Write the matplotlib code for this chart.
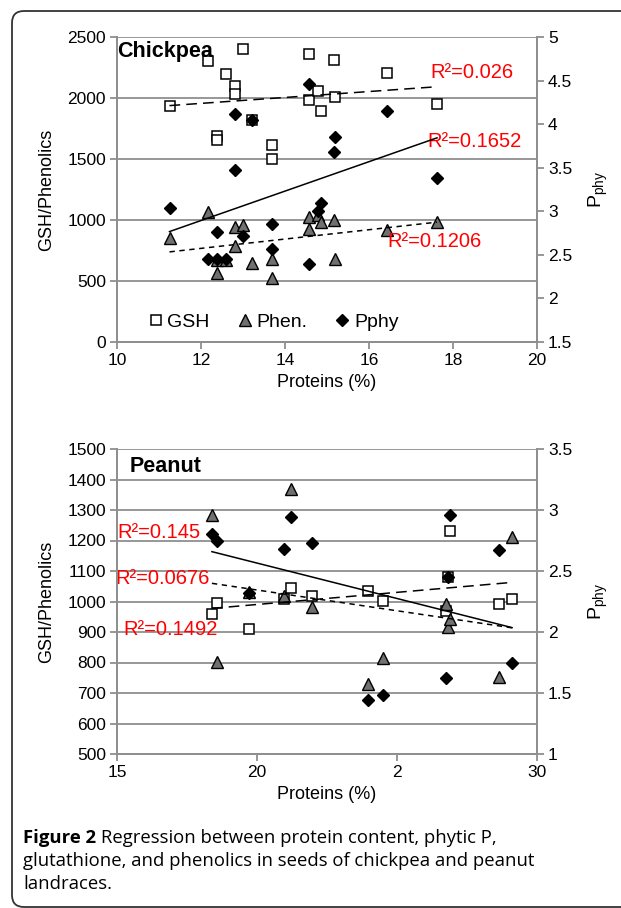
import numpy as np
import matplotlib.pyplot as plt
from matplotlib.patches import FancyBboxPatch

plt.rcParams['font.family'] = ['Liberation Sans', 'DejaVu Sans']
plt.rcParams['mathtext.fontset'] = 'custom'
plt.rcParams['mathtext.rm'] = 'Liberation Sans'

# chickpea landraces
cp_protein = [11.25, 12.17, 12.37, 12.37, 12.6, 12.81, 12.81, 13.01, 13.21, 13.7,
              13.7, 14.58, 14.58, 14.79, 14.86, 15.17, 15.19, 16.43, 17.62]
cp_gsh = [1934, 2303, 1689, 1656, 2197, 2098, 2033, 2402, 1820, 1615,
          1500, 2361, 1984, 2057, 1893, 2311, 2008, 2205, 1951]
cp_phen = [852, 1066, 672, 566, 672, 943, 787, 959, 648, 680,
           525, 1025, 926, 1040, 984, 1000, 680, 918, 984]
cp_pphy = [3.04, 2.45, 2.76, 2.45, 2.45, 4.12, 3.47, 2.72, 4.05, 2.85,
           2.57, 4.46, 2.39, 3.0, 3.09, 3.68, 3.85, 4.15, 3.38]
cp_r2 = ['R²=0.026', 'R²=0.1206', 'R²=0.1652']  # gsh, phen, pphy

# peanut landraces
pn_protein = [18.39, 18.57, 19.7, 20.95, 21.21, 21.95, 23.96, 24.5, 26.75, 26.82,
              26.89, 28.64, 29.11]
pn_gsh = [959, 995, 910, 1008, 1044, 1018, 1034, 1002, 969, 1080, 1231, 992, 1008]
pn_phen = [1284, 802, 1030, 1018, 1369, 982, 730, 815, 992, 916, 943, 752, 1211]
pn_pphy = [2.80, 2.75, 2.32, 2.68, 2.94, 2.73, 1.44, 1.48, 1.62, 2.45, 2.96, 2.67, 1.75]
pn_r2 = ['R²=0.0676', 'R²=0.1492', 'R²=0.145']

GRAY = '#8f8f8f'
W, H = 621, 908

fig = plt.figure(figsize=(W / 100, H / 100), dpi=100)

# pixel overlay for frame and caption
bg = fig.add_axes([0, 0, 1, 1])
bg.set_xlim(0, W)
bg.set_ylim(H, 0)
bg.axis('off')
bg.set_zorder(-1)
bg.add_patch(FancyBboxPatch((12, 11), 700, 896, boxstyle='round,pad=0,rounding_size=12',
                            fill=False, ec='#333333', lw=1.3))


def trend(ax, x, y, **kw):
    c = np.polyfit(x, y, 1)
    xs = np.array([min(x), max(x)])
    ax.plot(xs, np.polyval(c, xs), color='black', lw=1.1, **kw)


def style(ax, ax2):
    for s in ['left', 'bottom', 'right']:
        ax.spines[s].set_color(GRAY)
        ax.spines[s].set_linewidth(1.3)
        ax2.spines[s].set_color(GRAY)
        ax2.spines[s].set_linewidth(1.3)
    ax.spines['top'].set_visible(False)
    ax2.spines['top'].set_visible(False)
    ax.grid(axis='y', color=GRAY, lw=1.3)
    ax.set_axisbelow(True)
    for a in (ax, ax2):
        a.tick_params(direction='out', length=5, width=1.3, color=GRAY, labelsize=12.5, pad=3)


def panel(ax, x, gsh, phen, pphy, r2, r2pos, name, namepos):
    ax2 = ax.twinx()
    hs = ax.plot(x, gsh, 's', ms=7.5, mfc='white', mec='black', mew=1.1, label='GSH')[0]
    ht = ax.plot(x, phen, '^', ms=8.5, mfc='#707070', mec='black', mew=1.0, label='Phen.')[0]
    hd = ax2.plot(x, pphy, 'D', ms=6, color='black', label='Pphy')[0]
    trend(ax, x, gsh, dashes=(7, 4))
    trend(ax, x, phen, dashes=(3.5, 3))
    trend(ax2, x, pphy)
    for txt, (tx, ty) in zip(r2, r2pos):
        ax.text(tx, ty, txt, color='red', fontsize=14.5, transform=ax.transAxes,
                ha='left', va='center', zorder=5)
    ax.text(namepos[0], namepos[1], name, fontsize=15.5, weight='bold',
            transform=ax.transAxes, ha='left', va='center')
    style(ax, ax2)
    ax.set_xlabel('Proteins (%)', fontsize=13)
    ax.xaxis.set_label_coords(0.5, -0.134)
    ax.xaxis.label.set_va('center')
    ax.set_ylabel('GSH/Phenolics', fontsize=13)
    ax.yaxis.set_label_coords(-0.167, 0.5)
    ax.yaxis.label.set_va('center')
    ax2.set_ylabel('P$_{\\mathrm{phy}}$', fontsize=14, rotation=90)
    ax2.yaxis.set_label_coords(1.145, 0.5)
    ax2.yaxis.label.set_va('center')
    return ax2, (hs, ht, hd)


axA = fig.add_axes([117 / W, 1 - 342 / H, 420 / W, 305 / H])
axA2, handles = panel(axA, cp_protein, cp_gsh, cp_phen, cp_pphy, cp_r2,
                      [(0.745, 0.882), (0.643, 0.328), (0.738, 0.656)],
                      'Chickpea', (0.0, 0.951))
axA.set_xlim(10, 20)
axA.set_ylim(0, 2500)
axA.set_yticks(np.arange(0, 2501, 500))
axA.set_xticks(np.arange(10, 21, 2))
axA2.set_ylim(1.5, 5)
axA2.set_yticks(np.arange(1.5, 5.01, 0.5))
axA2.set_yticklabels(['1.5', '2', '2.5', '3', '3.5', '4', '4.5', '5'])
axA2.legend(handles, ['GSH', 'Phen.', 'Pphy'], ncol=3, loc='center left',
            bbox_to_anchor=(0.05, 0.066), frameon=False, fontsize=14,
            handletextpad=0.1, columnspacing=1.3, handlelength=1.0, borderaxespad=0)

axB = fig.add_axes([117 / W, 1 - 754 / H, 420 / W, 305 / H])
axB2, _ = panel(axB, pn_protein, pn_gsh, pn_phen, pn_pphy, pn_r2,
                [(-0.005, 0.574), (0.014, 0.407), (0.002, 0.725)],
                'Peanut', (0.031, 0.941))
axB.set_xlim(15, 30)
axB.set_ylim(500, 1500)
axB.set_yticks(np.arange(500, 1501, 100))
axB.set_xticks([15, 20, 25, 30])
axB.set_xticklabels(['15', '20', '2', '30'])
axB2.set_ylim(1, 3.5)
axB2.set_yticks(np.arange(1, 3.51, 0.5))
axB2.set_yticklabels(['1', '1.5', '2', '2.5', '3', '3.5'])

# caption
cap_font = dict(family=['Open Sans', 'DejaVu Sans'], fontsize=13.3, va='center', ha='left')
r = fig.canvas.get_renderer()
t = bg.text(23, 838, 'Figure 2', weight='bold', **cap_font)
bb = t.get_window_extent(r)
x1 = bb.x1 + 5
bg.text(x1, 838, 'Regression between protein content, phytic P,', **cap_font)
bg.text(23, 861, 'glutathione, and phenolics in seeds of chickpea and peanut', **cap_font)
bg.text(23, 884, 'landraces.', **cap_font)

fig.savefig('out.png', dpi=100)
